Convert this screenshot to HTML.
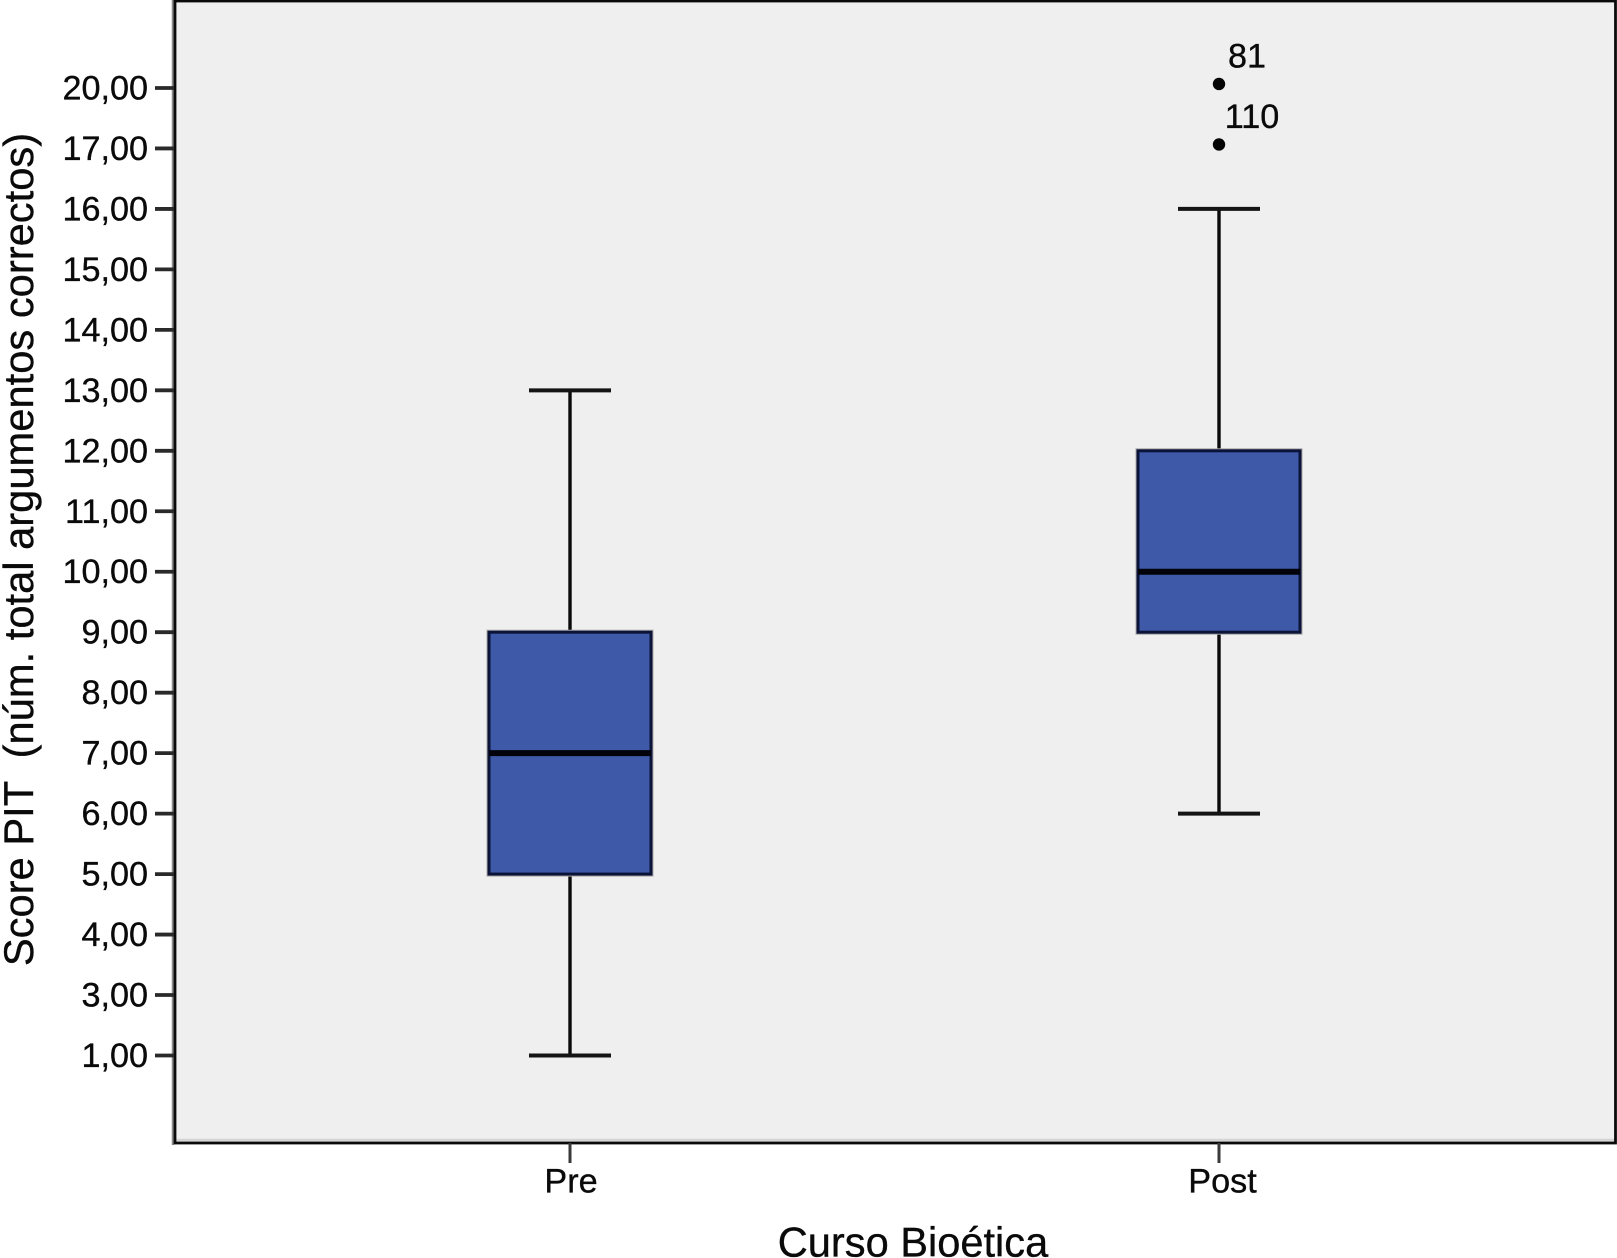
<!DOCTYPE html>
<html lang="es">
<head>
<meta charset="utf-8">
<title>Score PIT por Curso Bioética</title>
<style>
  html, body { margin: 0; padding: 0; background: #fff; }
  body { width: 1617px; height: 1258px; overflow: hidden; }
  svg { display: block; }
  text { font-family: "Liberation Sans", Arial, sans-serif; fill: #0a0a0a; stroke: #0a0a0a; stroke-width: 0.35px; white-space: pre; }
</style>
</head>
<body>
<svg id="chart" xmlns="http://www.w3.org/2000/svg" width="1617" height="1258" viewBox="0 0 1617 1258"></svg>
<script>
const yCategories = [1, 3, 4, 5, 6, 7, 8, 9, 10, 11, 12, 13, 14, 15, 16, 17, 20];
const yTickLabels = ["1,00", "3,00", "4,00", "5,00", "6,00", "7,00", "8,00", "9,00", "10,00", "11,00", "12,00", "13,00", "14,00", "15,00", "16,00", "17,00", "20,00"];
const groups = ["Pre", "Post"];
const whiskerLow = [1, 6];
const q1 = [5, 9];
const median = [7, 10];
const q3 = [9, 12];
const whiskerHigh = [13, 16];
const outlierGroup = [1, 1];
const outlierValues = [20, 17];
const outlierLabels = ["81", "110"];

const NS = "http://www.w3.org/2000/svg";
const svg = document.getElementById("chart");
const plot = { left: 175, right: 1615.5, top: 1, bottom: 1143 };
const yBase = 1055.5, yStep = 60.47;
const xFirst = 570, xStep = 649;

function yScale(v) {
  const c = yCategories, n = c.length;
  let i = 0;
  while (i < n - 2 && v > c[i + 1]) i++;
  return yBase - (i + (v - c[i]) / (c[i + 1] - c[i])) * yStep;
}
function xScale(i) { return xFirst + i * xStep; }
function add(tag, attrs) {
  const el = document.createElementNS(NS, tag);
  for (const k in attrs) el.setAttribute(k, attrs[k]);
  svg.appendChild(el);
  return el;
}

// plot background and frame
let el = add("rect", { x: plot.left, y: plot.top, width: plot.right - plot.left, height: plot.bottom - plot.top, fill: "#efefef" });


el = add("line", { x1: plot.left + 1, x2: plot.right, y1: plot.bottom - 3, y2: plot.bottom - 3, stroke: "#d4d4d4", "stroke-width": 2.5 });


el = add("line", { x1: 173, x2: 173, y1: 0, y2: 1145, stroke: "#8a8a8a", "stroke-width": 2.5 });


el = add("rect", { x: plot.left, y: plot.top, width: plot.right - plot.left, height: plot.bottom - plot.top, fill: "none", stroke: "#0a0a0a", "stroke-width": 2.8 });



// y axis
yCategories.forEach(function (v, i) {
  const y = yScale(v);
  let t = add("line", { x1: 155, x2: 174, y1: y, y2: y, stroke: "#2a2a2a", "stroke-width": 3.8 });
  
  
  let l = add("text", { x: 148, y: y + 11.5, "text-anchor": "end", "font-size": 34.2 });
  
  
  l.textContent = yTickLabels[i];
});

// x axis
groups.forEach(function (g, i) {
  const x = xScale(i);
  let t = add("line", { x1: x, x2: x, y1: plot.bottom, y2: 1163, stroke: "#3a3a3a", "stroke-width": 3 });
  
  
  let l = add("text", { x: x + (i === 0 ? 1 : 3.5), y: 1192.5, "text-anchor": "middle", "font-size": 34.2 });
  
  
  l.textContent = g;
});

// boxes
const boxHalf = 81, capHalf = 41;
groups.forEach(function (g, i) {
  const x = xScale(i);
  let w = add("line", { x1: x, x2: x, y1: yScale(whiskerHigh[i]), y2: yScale(whiskerLow[i]), stroke: "#0a0a0a", "stroke-width": 3.4 });
  
  
  let c1 = add("line", { x1: x - capHalf, x2: x + capHalf, y1: yScale(whiskerHigh[i]), y2: yScale(whiskerHigh[i]), stroke: "#141414", "stroke-width": 4 });
  
  
  let c2 = add("line", { x1: x - capHalf, x2: x + capHalf, y1: yScale(whiskerLow[i]), y2: yScale(whiskerLow[i]), stroke: "#141414", "stroke-width": 4 });
  
  
  let s = add("rect", { x: x - boxHalf - 1.5, y: yScale(q3[i]) - 1.5, width: 2 * boxHalf + 3, height: yScale(q1[i]) - yScale(q3[i]) + 3, fill: "none", stroke: "#a8a8a8", "stroke-width": 2 });
  
  
  let b = add("rect", { x: x - boxHalf, y: yScale(q3[i]), width: 2 * boxHalf, height: yScale(q1[i]) - yScale(q3[i]), fill: "#3e59a8", stroke: "#0b1438", "stroke-width": 3 });
  
  
  let m = add("line", { x1: x - boxHalf, x2: x + boxHalf, y1: yScale(median[i]), y2: yScale(median[i]), stroke: "#02030a", "stroke-width": 6 });
  
  
});

// outliers
const outlierNudge = -4;
outlierValues.forEach(function (v, i) {
  const x = xScale(outlierGroup[i]), y = yScale(v) + outlierNudge;
  let p = add("circle", { cx: x, cy: y, r: 6.2, fill: "#050505" });
  
  
  let l = add("text", { x: x + 28 + 5 * (outlierLabels[i].length - 2), y: y - 16.5, "text-anchor": "middle", "font-size": 34.2 });
  
  
  l.textContent = outlierLabels[i];
});

// axis titles
let xt = add("text", { x: 913, y: 1256.5, "text-anchor": "middle", "font-size": 41.6 });


xt.textContent = "Curso Bioética";
let yt = add("text", { x: 0, y: 0, "text-anchor": "middle", "font-size": 41.7, transform: "translate(33 549.5) rotate(-90)" });


yt.textContent = "Score PIT  (núm. total argumentos correctos)";
</script>
</body>
</html>
